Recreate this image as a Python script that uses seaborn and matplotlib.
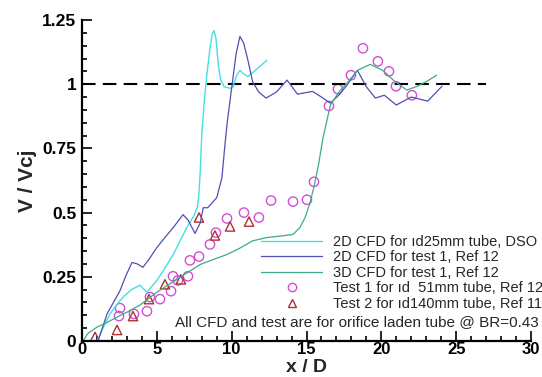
import matplotlib
matplotlib.use("Agg")
import matplotlib.pyplot as plt
import seaborn as sns
import pandas as pd
from matplotlib.ticker import MultipleLocator, FixedLocator, FixedFormatter
from matplotlib.lines import Line2D

# ---- data ----
cyan_x = [1.0, 1.4, 1.87, 2.3, 2.74, 3.3, 3.87, 4.34, 5.0, 5.5, 6.1, 7.0, 7.5, 7.7, 7.8, 7.9, 8.0, 8.15, 8.35, 8.55, 8.7, 8.82, 8.95, 9.1, 9.25, 9.5, 9.9, 10.1, 10.3, 10.55, 10.8, 11.1, 11.7, 12.35]
cyan_y = [0.0, 0.05, 0.105, 0.14, 0.171, 0.2, 0.217, 0.19, 0.236, 0.28, 0.337, 0.442, 0.49, 0.52, 0.56, 0.66, 0.80, 0.92, 1.04, 1.14, 1.195, 1.209, 1.18, 1.08, 1.02, 0.99, 0.984, 0.99, 1.03, 1.054, 1.04, 1.03, 1.06, 1.093]

blue_x = [1.07, 1.3, 1.67, 2.1, 2.54, 2.9, 3.34, 3.7, 4.07, 4.5, 5.0, 5.5, 6.1, 6.75, 7.1, 7.55, 7.9, 8.1, 8.4, 9.0, 9.35, 9.55, 9.7, 9.9, 10.1, 10.3, 10.55, 10.8, 11.1, 11.4, 11.8, 12.3, 13.0, 13.7, 14.4, 15.4, 16.0, 16.6, 17.2, 17.7, 18.4, 19.0, 19.6, 20.2, 21.0, 22.0, 23.1, 24.05]
blue_y = [0.0, 0.04, 0.105, 0.15, 0.196, 0.25, 0.306, 0.3, 0.287, 0.32, 0.364, 0.4, 0.442, 0.492, 0.47, 0.419, 0.46, 0.519, 0.519, 0.558, 0.636, 0.764, 0.85, 0.94, 1.03, 1.12, 1.186, 1.16, 1.09, 1.01, 0.97, 0.946, 0.97, 1.016, 0.961, 0.972, 0.95, 0.926, 0.96, 0.996, 1.054, 0.99, 0.946, 0.957, 0.919, 0.95, 0.934, 0.992]

green_x = [0.07, 0.4, 1.0, 1.6, 2.34, 3.1, 3.87, 4.4, 5.0, 5.8, 6.55, 7.2, 7.9, 8.8, 9.69, 10.5, 11.4, 12.35, 13.2, 14.1, 14.56, 14.9, 15.2, 15.5, 15.8, 16.1, 16.6, 17.2, 17.8, 18.4, 19.25, 20.1, 20.8, 21.7, 22.4, 23.0, 23.7]
green_y = [0.0, 0.03, 0.054, 0.07, 0.093, 0.115, 0.14, 0.163, 0.19, 0.22, 0.248, 0.272, 0.298, 0.318, 0.337, 0.36, 0.39, 0.403, 0.408, 0.415, 0.442, 0.48, 0.531, 0.6, 0.686, 0.79, 0.92, 0.972, 1.01, 1.054, 1.077, 1.054, 1.016, 0.977, 0.992, 1.01, 1.035]

test1_x = [2.54, 2.47, 3.47, 4.34, 4.54, 5.21, 5.95, 6.08, 6.41, 7.08, 7.21, 7.82, 8.55, 8.95, 9.69, 10.82, 11.82, 12.63, 14.10, 15.03, 15.50, 16.50, 17.10, 17.97, 18.77, 19.77, 20.51, 20.98, 22.04]
test1_y = [0.128, 0.097, 0.105, 0.116, 0.171, 0.163, 0.194, 0.252, 0.236, 0.252, 0.314, 0.329, 0.376, 0.422, 0.477, 0.500, 0.481, 0.547, 0.543, 0.550, 0.620, 0.915, 0.981, 1.035, 1.140, 1.089, 1.050, 0.992, 0.957]

test2_x = [0.87, 2.34, 3.41, 4.48, 5.54, 6.61, 7.82, 8.88, 9.89, 11.16]
test2_y = [0.016, 0.043, 0.097, 0.163, 0.221, 0.240, 0.481, 0.411, 0.446, 0.465]

ref_x = [0, 27]
ref_y = [1, 1]

labels = ["2D CFD for \u0131d25mm tube, DSO",
          "2D CFD for test 1, Ref 12",
          "3D CFD for test 1, Ref 12",
          "Test 1 for \u0131d  51mm tube, Ref 12",
          "Test 2 for \u0131d140mm tube, Ref 11"]
note = "All CFD and test are for orifice laden tube @ BR=0.43"

x_ticks = [0, 5, 10, 15, 20, 25, 30]
y_ticks = [0, 0.25, 0.5, 0.75, 1.0, 1.25]
y_tick_labels = ["0", "0.25", "0.5", "0.75", "1", "1.25"]

# ---- style ----
sns.set_style("ticks")
plt.rcParams['font.family'] = ['Liberation Sans', 'DejaVu Sans']

c_cyan = "#45E0E0"
c_blue = "#4F4FB5"
c_green = "#3AAE7E"
c_mag = "#D24ED8"
c_red = "#B03030"

fig = plt.figure(figsize=(5.42, 3.77), dpi=100)
ax = fig.add_axes([82/542, 36/377, 449/542, 321/377])

sns.lineplot(x=ref_x, y=ref_y, ax=ax, color="black", lw=1.5, estimator=None, sort=False)
ax.lines[-1].set_dashes([6.5, 3.5])
sns.lineplot(x=cyan_x, y=cyan_y, ax=ax, color=c_cyan, lw=1.0, estimator=None, sort=False)
sns.lineplot(x=blue_x, y=blue_y, ax=ax, color=c_blue, lw=0.9, estimator=None, sort=False)
sns.lineplot(x=green_x, y=green_y, ax=ax, color=c_green, lw=0.9, estimator=None, sort=False)
sns.scatterplot(x=test1_x, y=test1_y, ax=ax, marker="o", s=45, facecolors="none", edgecolor=c_mag, linewidth=1.0)
sns.scatterplot(x=test2_x, y=test2_y, ax=ax, marker="^", s=45, facecolors="none", edgecolor=c_red, linewidth=1.0)

ax.set_xlim(0, 30)
ax.set_ylim(0, 1.25)
ax.xaxis.set_major_locator(FixedLocator(x_ticks))
ax.xaxis.set_minor_locator(MultipleLocator(1))
ax.yaxis.set_major_locator(FixedLocator(y_ticks))
ax.yaxis.set_major_formatter(FixedFormatter(y_tick_labels))
ax.yaxis.set_minor_locator(MultipleLocator(0.05))
ax.tick_params(which="both", direction="in", width=1.2, colors="black")
ax.tick_params(which="major", length=7, labelsize=12.5)
ax.tick_params(axis="x", labelsize=12)
ax.tick_params(which="minor", length=3.5)
for lab in ax.get_xticklabels() + ax.get_yticklabels():
    lab.set_fontweight("bold")
ax.tick_params(axis="x", pad=1)
ax.tick_params(axis="y", pad=4)
sns.despine(ax=ax)
for s in ["left", "bottom"]:
    ax.spines[s].set_linewidth(1.6)
    ax.spines[s].set_color("black")

ax.set_xlabel("x / D", fontsize=14, fontweight="bold")
ax.xaxis.label.set_va("baseline")
ax.xaxis.set_label_coords(0.5, (4.5 - 36) / 321)
ax.set_ylabel("V / Vcj", fontsize=15, fontweight="bold", labelpad=4)

handles = [Line2D([], [], color=c_cyan, lw=1.0),
           Line2D([], [], color=c_blue, lw=0.9),
           Line2D([], [], color=c_green, lw=0.9),
           Line2D([], [], ls="none", marker="o", ms=6, mfc="none", mec=c_mag, mew=1.0),
           Line2D([], [], ls="none", marker="^", ms=6, mfc="none", mec=c_red, mew=1.0)]
leg = fig.legend(handles, labels, loc="upper left", bbox_to_anchor=(261/542, 1 - 235/377),
                 frameon=False, fontsize=10.5, handlelength=4.2, handletextpad=0.75,
                 labelspacing=0.1, borderpad=0, borderaxespad=0)
fig.text(175/542, 1 - 322/377, note, fontsize=11, va="center", ha="left")

fig.savefig("out.png", dpi=100)
